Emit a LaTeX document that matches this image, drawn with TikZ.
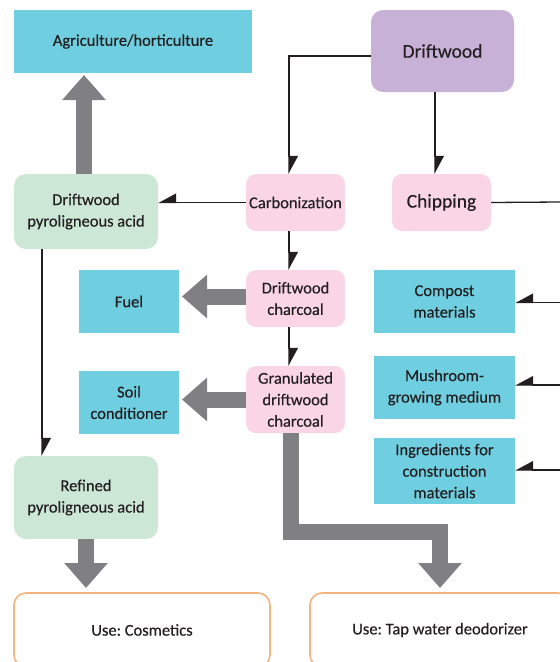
\documentclass[tikz,border=0pt]{standalone}
\usepackage{fontspec}
\setmainfont{Carlito}[FakeBold=0.35]
\usetikzlibrary{arrows.meta}
\definecolor{cyanbox}{HTML}{6FCFE0}
\definecolor{purplebox}{HTML}{C8B1D6}
\definecolor{greenbox}{HTML}{CDE7D7}
\definecolor{pinkbox}{HTML}{F9D5E5}
\definecolor{grayarrow}{HTML}{808084}
\definecolor{orangeline}{HTML}{F3B482}
\definecolor{txt}{HTML}{231F20}
\frenchspacing
\begin{document}
\frenchspacing
\begin{tikzpicture}[x=1pt,y=-1pt,
  box/.style={rectangle, inner sep=2pt, outer sep=0pt, align=center, text=txt,
    font=\fontsize{16.5}{21.5}\selectfont},
  cyanb/.style={box, fill=cyanbox},
  purpleb/.style={box, fill=purplebox, rounded corners=12pt, font=\fontsize{19.5}{22}\selectfont},
  greenb/.style={box, fill=greenbox, rounded corners=12pt},
  pinkb/.style={box, fill=pinkbox, rounded corners=10pt},
  useb/.style={box, draw=orangeline, line width=1.6pt, fill=white, rounded corners=12pt},
  conn/.style={draw=txt, line width=1.3pt},
  harpl/.style={conn, -{Triangle[harpoon, length=17pt, width=18pt]}},
  harpr/.style={conn, -{Triangle[harpoon, swap, length=17pt, width=18pt]}},
  bigarrow/.style={draw=grayarrow, line width=16pt, line join=miter,
    -{Triangle[length=25pt, width=42pt]}}
]
\useasboundingbox (0,0) rectangle (560,662);
\clip (0,0) rectangle (560,662);

% nodes
\node[cyanb, minimum width=238pt, minimum height=63pt] (agri) at (133,41.5) {Agriculture/horticulture};
\node[purpleb, minimum width=143pt, minimum height=82pt] (drift) at (442.5,51) {Driftwood};
\node[greenb, minimum width=144pt, minimum height=75pt] (pyro) at (86,211.5) {Driftwood\\pyroligneous acid};
\node[pinkb, minimum width=99pt, minimum height=57pt] (carb) at (295.5,202.5) {Carbonization};
\node[pinkb, minimum width=99pt, minimum height=57pt, font=\fontsize{19.5}{22}\selectfont] (chip) at (441.5,202.5) {Chipping};
\node[cyanb, minimum width=100pt, minimum height=63pt] (fuel) at (129,301.5) {Fuel};
\node[pinkb, minimum width=99pt, minimum height=57pt] (dchar) at (295.5,298.5) {Driftwood\\charcoal};
\node[cyanb, minimum width=141pt, minimum height=63pt] (compost) at (444.5,301.5) {Compost\\materials};
\node[cyanb, minimum width=100pt, minimum height=63pt] (soil) at (129,402.5) {Soil\\conditioner};
\node[pinkb, minimum width=99pt, minimum height=67pt] (gran) at (295.5,399.5) {Granulated\\driftwood\\charcoal};
\node[cyanb, minimum width=141pt, minimum height=63pt] (mush) at (444.5,387.5) {Mushroom-\\growing medium};
\node[cyanb, minimum width=141pt, minimum height=66pt] (ingr) at (444.5,471) {Ingredients for\\construction\\materials};
\node[greenb, minimum width=144pt, minimum height=83pt] (refined) at (86,497.5) {Refined\\pyroligneous acid};
\node[useb, minimum width=256pt, minimum height=74pt] (cosm) at (142,630) {Use: Cosmetics};
\node[useb, minimum width=260pt, minimum height=74pt] (tap) at (440,630) {Use: Tap water deodorizer};

% free ends on the right edge
\coordinate (chipend) at (560,202);
\coordinate (compin) at (560,302.5);
\coordinate (mushin) at (560,385);
\coordinate (ingrin) at (560,470);

% thin connectors
\draw[harpl] (drift.west |- 0,56) -| (carb.north -| 289,0);
\draw[harpl] (drift.south -| 435,0) -- (chip.north -| 435,0);
\draw[conn] (chip.east) -- (chipend);
\draw[harpr] (compin) -- (compost.east |- compin);
\draw[harpr] (mushin) -- (mush.east |- mushin);
\draw[harpr] (ingrin) -- (ingr.east |- ingrin);
\draw[harpr] (carb.west) -- (pyro.east |- carb.west);
\draw[harpl] (carb.south -| 289,0) -- (dchar.north -| 289,0);
\draw[harpl] (dchar.south -| 289,0) -- (gran.north -| 289,0);
\draw[harpl] (pyro.south -| 42,0) -- (refined.north -| 42,0);

% big gray arrows
\draw[bigarrow] (pyro.north -| 84,0) -- (84,75);
\draw[bigarrow] (dchar.west |- 0,296.5) -- (182,296.5);
\draw[bigarrow] (gran.west) -- (182,399.5);
\draw[bigarrow] (gran.south -| 290.5,0) -- (290.5,531.5) -| (440,588);
\draw[bigarrow] (refined.south -| 86,0) -- (86,588);
\end{tikzpicture}
\end{document}
